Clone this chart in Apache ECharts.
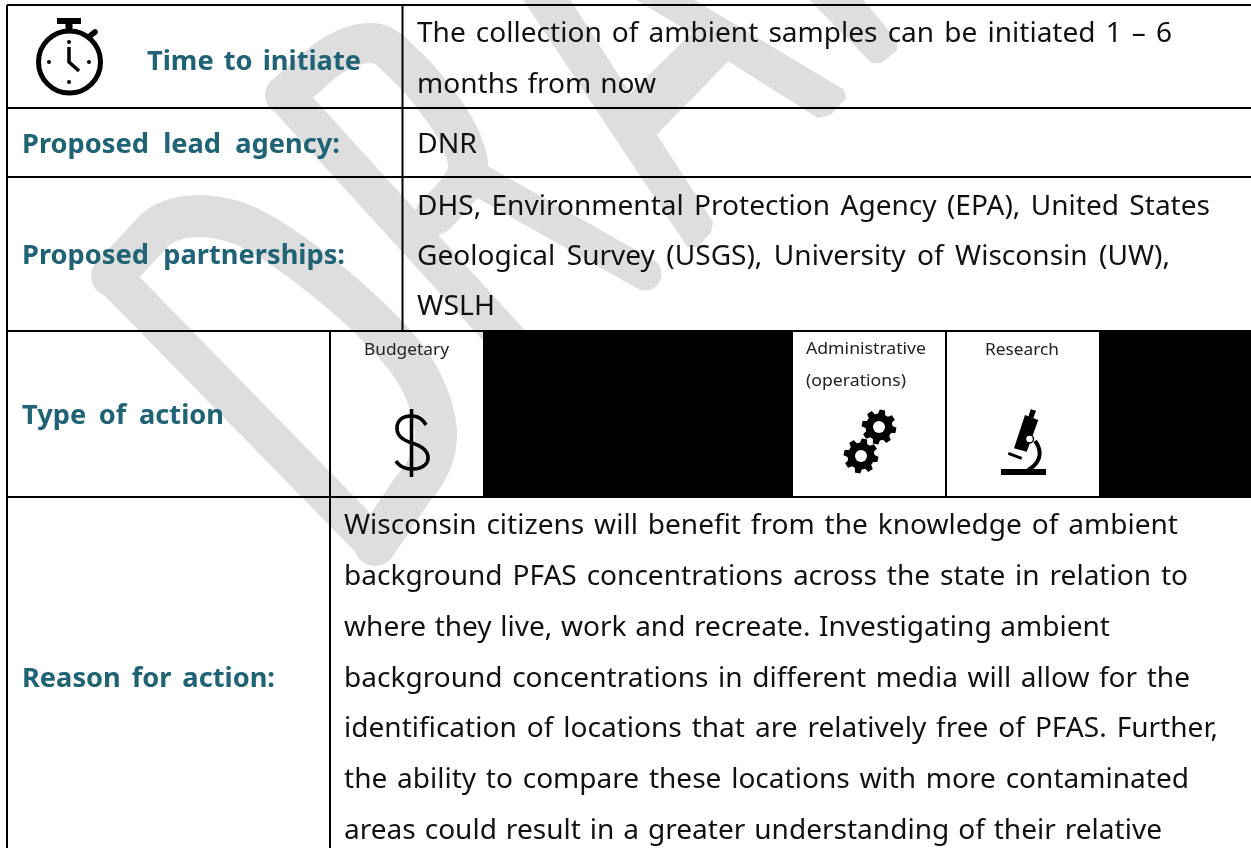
<!DOCTYPE html>
<html><head><meta charset="utf-8">
<style>html,body{margin:0;padding:0;background:#fff}#c{width:1251px;height:848px}</style>
<script src="https://cdn.jsdelivr.net/npm/echarts@6/dist/echarts.min.js"></script>
</head><body><div id="c"></div>
<script>
const FONT = '"Noto Sans","Open Sans",sans-serif';
// text content
const headingTexts = ['Time to initiate','Proposed lead agency:','Proposed partnerships:','Type of action','Reason for action:'];
const bodyTexts = [
 'The collection of ambient samples can be initiated 1 – 6','months from now','DNR',
 'DHS, Environmental Protection Agency (EPA), United States',
 'Geological Survey (USGS), University of Wisconsin (UW),','WSLH',
 'Wisconsin citizens will benefit from the knowledge of ambient',
 'background PFAS concentrations across the state in relation to',
 'where they live, work and recreate. Investigating ambient',
 'background concentrations in different media will allow for the',
 'identification of locations that are relatively free of PFAS. Further,',
 'the ability to compare these locations with more contaminated',
 'areas could result in a greater understanding of their relative'];
const actionTexts = ['Budgetary','Administrative','(operations)','Research'];
// layout [x start, x end, baseline]
const headingPos = [[147,361,71],[22,340,154],[22,345,265],[22,224,425],[22,275,688]];
const bodyPos = [[417,1172,43],[417,656,94],[417,477,154],[417,1210,216],[417,1170,266],[417,495,316],
 [344,1178,535],[344,1188,586],[344,1110,637],[344,1190,688],[344,1218,738],[344,1189,789],[344,1162,840]];
const actionPos = [[364,449,355],[806,926,354],[806,906,386],[985,1059,355]];

const meas = document.createElement('canvas').getContext('2d');
function wordsLine(text,p,size,weight,color,sx){
  const out=[]; const words=text.split(' ');
  meas.font = weight+' '+size+'px "Noto Sans"';
  const w=words.map(t=>meas.measureText(t).width*sx);
  const total=w.reduce((a,b)=>a+b,0);
  const gap=words.length>1?(p[1]-p[0]-total)/(words.length-1):0;
  const s=words.length>1?sx:(p[1]-p[0])/meas.measureText(text).width;
  let x=p[0];
  words.forEach((t,i)=>{
    out.push({type:'text',x:x,y:p[2]-size*0.34+0.5,scaleX:s,z:5,
      style:{text:t,font:weight+' '+size+'px '+FONT,fill:color,verticalAlign:'middle',align:'left'}});
    x+=w[i]+gap;
  });
  return out;
}
// flatten "M x y L x y C ... Z" strings into point lists
function flatten(d){
  const t=d.trim().split(/\s+/);const subs=[];let cur=null,i=0,c=null;
  while(i<t.length){
    const m=t[i].match(/^([MLCZ])(.*)$/);
    if(m){c=m[1];if(m[2])t[i]=m[2];else i++;
      if(c==='Z'){cur.push(cur[0].slice());continue;}}
    if(c==='M'){cur=[[+t[i],+t[i+1]]];subs.push(cur);i+=2;}
    else if(c==='L'){cur.push([+t[i],+t[i+1]]);i+=2;}
    else if(c==='C'){
      const p0=cur[cur.length-1],a=[+t[i],+t[i+1]],b=[+t[i+2],+t[i+3]],e=[+t[i+4],+t[i+5]];i+=6;
      for(let k=1;k<=24;k++){const u=k/24,v=1-u;
        cur.push([v*v*v*p0[0]+3*v*v*u*a[0]+3*v*u*u*b[0]+u*u*u*e[0],v*v*v*p0[1]+3*v*v*u*a[1]+3*v*u*u*b[1]+u*u*u*e[1]]);}
    }
  }
  return subs;
}
const g=[];
function stroke(d,style,z){flatten(d).forEach(p=>g.push({type:'polyline',z:z,shape:{points:p},style:Object.assign({fill:null,lineJoin:'round'},style)}));}
const WM='#dedede';
const wmStrokes=[
 {d:'M375 545 L112 276',w:38},
 {d:'M112 276 L155 230 C175 212 215 212 248 227 C290 247 375 315 410 363 C425 385 437 415 436 438 C435 455 428 472 412 490 L375 545',w:42},
 {d:'M540 375 L285 95',w:38},
 {d:'M285 95 L311 73 C325 58 350 43 370 43 C385 43 392 52 402 62 C420 78 432 95 441 107 C455 125 465 145 468 163 C470 180 455 195 435 215',w:40},
 {d:'M470 175 L645 274',w:33}
];
const wmPolys=[
 [[521,-5],[566,-5],[712,222],[710,232],[697,246],[688,246]],
 [[627,98],[693,33],[728,60],[653,137]],
 [[630,-5],[684,-5],[843,90],[845,98],[830,114],[818,117],[728,60],[693,33]],
 [[806,-5],[858,-5],[897,42],[896,50],[881,62],[872,62]]
];
wmStrokes.forEach(s=>stroke(s.d,{stroke:WM,lineWidth:s.w,lineCap:'round'},1));
wmPolys.forEach(p=>g.push({type:'polygon',z:1,shape:{points:p},style:{fill:WM,stroke:WM,lineWidth:2,lineJoin:'round'}}));
// table rules
const rules=[[7,5,1251,5],[7,5,7,848],[7,108,1251,108],[7,177,1251,177],[7,331,1251,331],[7,497,1251,497],
 [402.5,5,402.5,331],[330,331,330,848],[946,331,946,497]];
rules.forEach(r=>g.push({type:'line',z:3,shape:{x1:r[0],y1:r[1],x2:r[2],y2:r[3]},style:{stroke:'#000',lineWidth:2}}));
[[483,330,310,167.5],[1099,330,152,167.5]].forEach(b=>g.push({type:'rect',z:4,shape:{x:b[0],y:b[1],width:b[2],height:b[3]},style:{fill:'#000'}}));
// text
headingTexts.forEach((t,i)=>wordsLine(t,headingPos[i],27.5,'bold','#1f6375',0.99).forEach(e=>g.push(e)));
bodyTexts.forEach((t,i)=>wordsLine(t,bodyPos[i],27.5,'normal','#111',1.02).forEach(e=>g.push(e)));
actionTexts.forEach((t,i)=>wordsLine(t,actionPos[i],17,'normal','#222',1).forEach(e=>g.push(e)));
// stopwatch
g.push({type:'circle',z:6,shape:{cx:69.5,cy:62,r:31},style:{fill:null,stroke:'#000',lineWidth:5}});
g.push({type:'rect',z:6,shape:{x:57,y:18,width:24,height:6},style:{fill:'#000'}});
g.push({type:'rect',z:6,shape:{x:65.5,y:24,width:7,height:6},style:{fill:'#000'}});
g.push({type:'line',z:6,shape:{x1:90,y1:36,x2:95,y2:32},style:{stroke:'#000',lineWidth:5.5,lineCap:'round'}});
g.push({type:'polyline',z:6,shape:{points:[[69,47],[69,62],[79,71]]},style:{stroke:'#000',lineWidth:3.5,fill:null}});
[[69,42],[49,62],[89,62],[69,82]].forEach(c=>g.push({type:'circle',z:6,shape:{cx:c[0],cy:c[1],r:2},style:{fill:'#000'}}));
// dollar
stroke('M411.5 409 L411.5 477 M426 425 C422 418 417 416 411 416 C402 416 397 421 397 428 C397 436 403 440 412 443 C421 446 428 450 428 458 C428 465 421 469 412 469 C405 469 399 466 396 461',{stroke:'#000',lineWidth:3.6},6);
// gears
function gear(cx,cy){
  const pts=[];const n=8;
  for(let i=0;i<n;i++){const a=i/n*2*Math.PI+0.2;const st=2*Math.PI/n;
    [[-.34,13.5],[-.2,17.5],[.2,17.5],[.34,13.5]].forEach(q=>pts.push([cx+q[1]*Math.cos(a+q[0]*st),cy+q[1]*Math.sin(a+q[0]*st)]));}
  g.push({type:'polygon',z:6,shape:{points:pts},style:{fill:'#000'}});
  g.push({type:'circle',z:7,shape:{cx:cx,cy:cy,r:6},style:{fill:'#fff'}});
}
gear(879,427);gear(861,456);
// microscope
g.push({type:'rect',z:6,shape:{x:1001,y:469,width:45,height:6},style:{fill:'#000'}});
[[[1030.7,409.3],[1036,410.7],[1033.3,418.3],[1028.3,416.7]],[[1025,415],[1038.3,420],[1026.7,451.7],[1014,448.3]]].forEach(p=>g.push({type:'polygon',z:6,shape:{points:p},style:{fill:'#000'}}));
stroke('M1035 441 C1042 450 1042 462 1028 470',{stroke:'#000',lineWidth:4},6);
g.push({type:'circle',z:7,shape:{cx:1029.5,cy:439,r:4},style:{fill:'#fff',stroke:'#000',lineWidth:1.5}});
g.push({type:'line',z:6,shape:{x1:1008.3,y1:453.3,x2:1021.7,y2:458.3},style:{stroke:'#000',lineWidth:3}});
echarts.init(document.getElementById('c'),null,{renderer:'canvas'}).setOption({animation:false,graphic:{elements:g}});
</script></body></html>
